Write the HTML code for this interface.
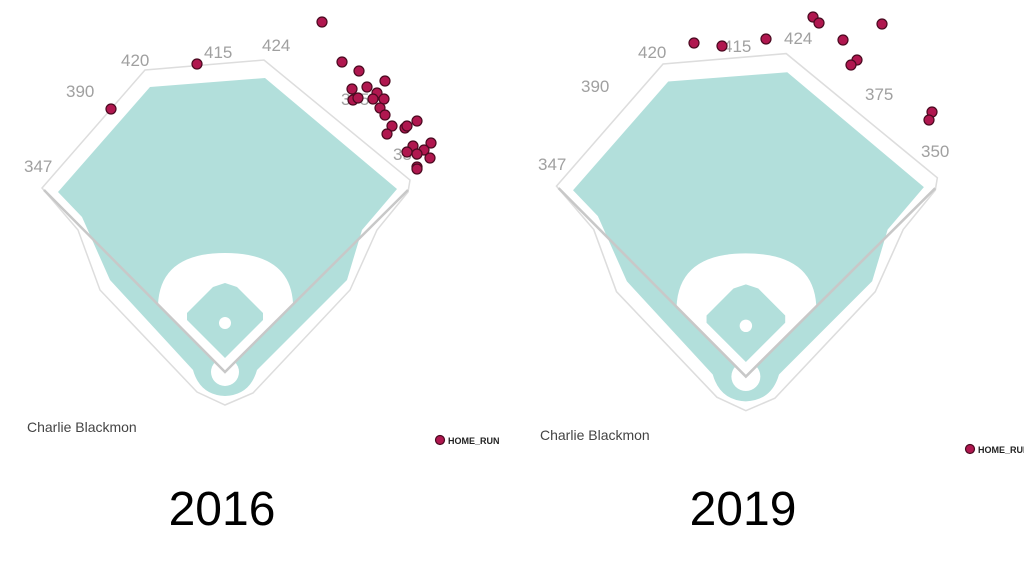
<!DOCTYPE html>
<html><head><style>
html,body{margin:0;padding:0;background:#fff;width:1024px;height:575px;overflow:hidden}
svg{display:block}
.lbl{font-family:"Liberation Sans",sans-serif;font-size:17px;fill:#a0a0a0}
.nm{font-family:"Liberation Sans",sans-serif;font-size:14px;fill:#444}
.lg{font-family:"Liberation Sans",sans-serif;font-size:9px;font-weight:bold;fill:#222}
.yr{font-family:"Liberation Sans",sans-serif;font-size:48px;fill:#000}
.d{fill:#b0174f;stroke:#4a0a20;stroke-width:1.2}
</style></head><body>
<svg width="1024" height="575" viewBox="0 0 1024 575">
<defs>
<g id="field">
  <path d="M42,188 L145,70 L264,60 L410,180 L408,192 L377,230 L350,290 L253,393 L225,405 L197,392 L100,290 L78,230 Z" fill="#fff" stroke="#ddd" stroke-width="1.5"/>
  <path d="M58,192 L150,87 L265,78 L397,189 L362,230 L347,280 L257,370 Q250,395 225,396 Q200,395 193,370 L110,280 L82,217 Z" fill="#b2dfdb"/>
  <path d="M158,305 Q160,253 225,253 Q290,253 293,303 L225,372 Z" fill="#fff"/>
  <path d="M225,283 L237,287 L263,313 L263,320 L225,358 L187,320 L187,313 L213,287 Z" fill="#b2dfdb"/>
  <circle cx="225" cy="323" r="6" fill="#fff"/>
  <circle cx="225" cy="372" r="14" fill="#fff"/>
  <path d="M44,190 L225,372 L408,190" fill="none" stroke="#c8c8c8" stroke-width="2.5"/>
</g>
</defs>
<use href="#field"/>
<g transform="translate(513,-8.5) scale(1.035)"><use href="#field"/></g>

<text class="lbl" x="24" y="172">347</text>
<text class="lbl" x="66" y="97">390</text>
<text class="lbl" x="121" y="66">420</text>
<text class="lbl" x="204" y="58">415</text>
<text class="lbl" x="262" y="51">424</text>
<text class="lbl" x="341" y="105">375</text>
<text class="lbl" x="393" y="160">350</text>

<text class="lbl" x="538" y="170">347</text>
<text class="lbl" x="581" y="92">390</text>
<text class="lbl" x="638" y="58">420</text>
<text class="lbl" x="723" y="52">415</text>
<text class="lbl" x="784" y="44">424</text>
<text class="lbl" x="865" y="100">375</text>
<text class="lbl" x="921" y="157">350</text>

<g class="d">
<circle cx="322" cy="22" r="5"/><circle cx="342" cy="62" r="5"/><circle cx="359" cy="71" r="5"/>
<circle cx="385" cy="81" r="5"/><circle cx="352" cy="89" r="5"/><circle cx="367" cy="87" r="5"/>
<circle cx="377" cy="93" r="5"/><circle cx="353" cy="100" r="5"/><circle cx="358" cy="98" r="5"/>
<circle cx="373" cy="99" r="5"/><circle cx="384" cy="99" r="5"/><circle cx="380" cy="108" r="5"/>
<circle cx="385" cy="115" r="5"/><circle cx="392" cy="126" r="5"/><circle cx="387" cy="134" r="5"/>
<circle cx="405" cy="128" r="5"/><circle cx="407" cy="126" r="5"/><circle cx="417" cy="121" r="5"/>
<circle cx="413" cy="146" r="5"/><circle cx="407" cy="152" r="5"/><circle cx="431" cy="143" r="5"/>
<circle cx="424" cy="150" r="5"/><circle cx="417" cy="154" r="5"/><circle cx="430" cy="158" r="5"/>
<circle cx="417" cy="167" r="5"/><circle cx="417" cy="169" r="5"/>
<circle cx="197" cy="64" r="5"/><circle cx="111" cy="109" r="5"/>

<circle cx="694" cy="43" r="5"/><circle cx="722" cy="46" r="5"/><circle cx="766" cy="39" r="5"/>
<circle cx="813" cy="17" r="5"/><circle cx="819" cy="23" r="5"/><circle cx="843" cy="40" r="5"/>
<circle cx="882" cy="24" r="5"/><circle cx="857" cy="60" r="5"/><circle cx="851" cy="65" r="5"/>
<circle cx="932" cy="112" r="5"/><circle cx="929" cy="120" r="5"/>

<circle cx="440" cy="440" r="4.5"/><circle cx="970" cy="449" r="4.5"/>
</g>

<text class="nm" x="27" y="432">Charlie Blackmon</text>
<text class="nm" x="540" y="440">Charlie Blackmon</text>
<text class="lg" x="448" y="444">HOME_RUN</text>
<text class="lg" x="978" y="453">HOME_RUN</text>

<text class="yr" x="222" y="525" text-anchor="middle">2016</text>
<text class="yr" x="743" y="525" text-anchor="middle">2019</text>
</svg>
</body></html>
